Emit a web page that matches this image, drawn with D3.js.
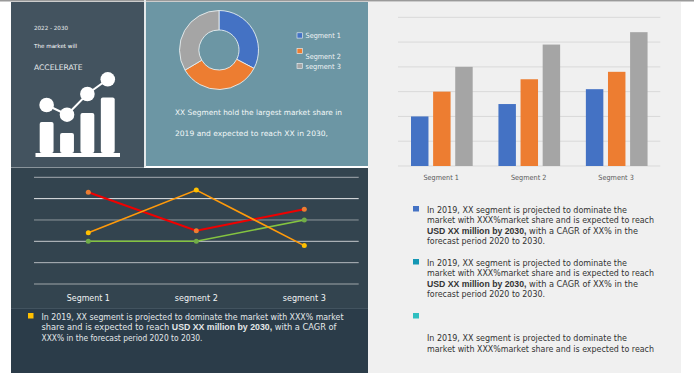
<!DOCTYPE html>
<html><head><meta charset="utf-8">
<script src="https://cdn.jsdelivr.net/npm/d3@7/dist/d3.min.js"></script>
<style>html,body{margin:0;padding:0;background:#fff}svg{display:block}text{font-family:"DejaVu Sans",sans-serif}</style>
</head><body><svg id="c" width="694" height="376"></svg>
<script>
const donutLabels=["Segment 1","Segment 2","segment 3"];
const donutValues=[32.7,33.8,33.5];
const palette=["#4472c4","#ed7d31","#a5a5a5"];
const barCategories=["Segment 1","Segment 2","Segment 3"];
const barSeriesA=[2,2.5,3.1];
const barSeriesB=[3,3.5,3.8];
const barSeriesC=[4,4.9,5.4];
const lineCategories=["Segment 1","segment 2","segment 3"];
const lineRed=[4.3,2.5,3.5];
const lineOrange=[2.4,4.4,1.8];
const lineGreen=[2,2,3];
const iconBars=[1,2,3,4];
const iconBarValues=[31,20,40,55.5];
const iconLine=[48,38.3,59,73.7];
const paraA=["In 2019, XX segment is projected to dominate the market with XXX% market",[["share and is expected to reach ",0],["USD XX million by 2030,",1],[" with a CAGR of",0]],"XXX% in the forecast period 2020 to 2030."];
const paraB=["In 2019, XX segment is projected to dominate the","market with XXX%market share and is expected to reach",[["USD XX million by 2030,",1],[" with a CAGR of XX% in the",0]],"forecast period 2020 to 2030."];
const paraC=["In 2019, XX segment is projected to dominate the","market with XXX%market share and is expected to reach"];

const svg=d3.select("#c");
const rect=(x,y,w,h,f)=>svg.append("rect").attr("x",x).attr("y",y).attr("width",w).attr("height",h).attr("fill",f);
function label(t,x,y,size,fill,anchor,len){
  const e=svg.append("text").attr("x",x).attr("y",y).attr("font-size",size).attr("fill",fill).attr("text-anchor",anchor||"start").text(t);
  if(len)e.attr("textLength",len).attr("lengthAdjust","spacingAndGlyphs");
  return e;
}
function para(lines,x,y,lh,size,fill,len){
  lines.forEach((l,i)=>{
    const t=svg.append("text").attr("x",x).attr("y",y+i*lh).attr("font-size",size).attr("fill",fill);
    if(len&&len[i])t.attr("textLength",len[i]).attr("lengthAdjust","spacingAndGlyphs");
    if(typeof l==="string")t.text(l);
    else l.forEach(s=>t.append("tspan").attr("font-weight",s[1]?"bold":"normal").style("font-family",s[1]?'"Liberation Sans",sans-serif':null).style("font-size",s[1]?(size+.5)+"px":null).style("white-space","pre").text(s[0]));
  });
}
// panels
rect(0,0,694,1.5,"#9a9a9a");
rect(368,2,313,371,"#f0f0f0");
rect(11,2,133,165,"#43535f");
rect(146,2,222,164,"#6c96a4");
rect(11,168,357,205,"#33444f");
rect(11,308,357,65,"#2b3c49");
rect(11,308,357,.6,"#53636e");
rect(11,167,133,1,"#8a949b");
rect(144,0,2,167,"#e4e8ea");

// left panel
label("2022 - 2030",34,30,5.6,"#e8ecee");
label("The market will",34,48,5.6,"#fff");
label("ACCELERATE",34,69.5,7.6,"#e8ecee");
const ix=d3.scaleBand().domain(iconBars).range([39.7,114.7]).paddingInner(.32);
const iy=d3.scaleLinear().domain([0,100]).range([153,53]);
svg.append("g").selectAll("rect").data(iconBars).join("rect")
 .attr("x",d=>ix(d)).attr("width",ix.bandwidth()).attr("y",(d,i)=>iy(iconBarValues[i])).attr("height",(d,i)=>iy(0)-iy(iconBarValues[i])).attr("rx",2).attr("fill","#fff");
rect(35.5,153,84.5,4,"#fff");
const ipts=iconBars.map((d,i)=>[ix(d)+ix.bandwidth()/2,iy(iconLine[i])]);
svg.append("path").attr("d",d3.line()(ipts)).attr("fill","none").attr("stroke","#fff").attr("stroke-width",2);
svg.append("g").selectAll("circle").data(ipts).join("circle").attr("cx",d=>d[0]).attr("cy",d=>d[1]).attr("r",7.3).attr("fill","#fff");

// donut
const arc=d3.arc().innerRadius(20).outerRadius(39.5);
svg.append("g").attr("transform","translate(219,50)").selectAll("path").data(d3.pie().sort(null)(donutValues)).join("path")
 .attr("d",arc).attr("fill",(d,i)=>palette[i]).attr("stroke","#e6eef0").attr("stroke-width",.9);
const lgX=[305.5,305.5,305.5], lgBoxY=[35.5,51,66], lgTextY=[38,58.5,69];
donutLabels.forEach((t,i)=>{
  svg.append("rect").attr("x",lgX[i]-8.5).attr("y",lgBoxY[i]-2.7).attr("width",5.3).attr("height",5.3).attr("fill",palette[i]).attr("stroke","#f2f6f7").attr("stroke-width",.6);
  label(t,lgX[i],lgTextY[i],7.2,"#f0f4f5",null,35.5);
});
label("XX Segment hold the largest market share in",175,115,7.4,"#f2f6f7",null,167);
label("2019 and expected to reach XX in 2030,",175,135.5,7.4,"#f2f6f7",null,153);

// bars
const bx=d3.scaleBand().domain(barCategories).range([398,660.3]);
const bs=d3.scaleBand().domain([0,1,2]).range([13,74.7]).paddingInner(.21);
const by=d3.scaleLinear().domain([0,6]).range([166,17.3]);
const grid=svg.append("g");
by.ticks(6).forEach(v=>grid.append("line").attr("x1",398).attr("x2",660.3).attr("y1",by(v)).attr("y2",by(v)).attr("stroke","#d9d9d9").attr("stroke-width",1));
[barSeriesA,barSeriesB,barSeriesC].forEach((s,k)=>{
  svg.append("g").selectAll("rect").data(s).join("rect")
   .attr("x",(d,i)=>bx(barCategories[i])+bs(k)).attr("width",bs.bandwidth())
   .attr("y",d=>by(d)).attr("height",d=>by(0)-by(d)).attr("fill",palette[k]);
});
barCategories.forEach(c=>label(c,bx(c)+bx.bandwidth()/2-.5,179.5,7.2,"#595959","middle",35.5));

// line chart
const lx=d3.scalePoint().domain(lineCategories).range([88.3,304.3]);
const ly=d3.scaleLinear().domain([0,5]).range([284,177.3]);
const gridCols=["#a4abb0","#e6e8ea","#8f979d","#c6cacd","#b4babe","#a0a6aa"];
ly.ticks(5).forEach((v,i)=>svg.append("line").attr("x1",34).attr("x2",358.7).attr("y1",ly(v)).attr("y2",ly(v)).attr("stroke",gridCols[5-i]).attr("stroke-width",1));
const lineGen=d3.line().x((d,i)=>lx(lineCategories[i])).y(d=>ly(d));
[[lineRed,"#f00000","#ed7d31",2],[lineGreen,"#84c440","#70ad47",1.6],[lineOrange,"#ff9a0a","#ffc000",1.6]].forEach(([s,c,m,w])=>{
  svg.append("path").datum(s).attr("d",lineGen).attr("fill","none").attr("stroke",c).attr("stroke-width",w);
  svg.append("g").selectAll("circle").data(s).join("circle").attr("cx",(d,i)=>lx(lineCategories[i])).attr("cy",d=>ly(d)).attr("r",2.5).attr("fill",m);
});
lineCategories.forEach(c=>label(c,lx(c),300.5,8.4,"#f2f4f5","middle",43));

// paragraphs
rect(28,313,5.5,5.5,"#ffc000");
para(paraA,41.5,319.5,10.6,8.2,"#e4e8ea",[302,295,161]);
rect(413,206,6,5.5,"#4472c4");
para(paraB,427,212.5,10.6,8.2,"#333",[200,227,211,118]);
rect(413,259,6,5.5,"#1497b4");
para(paraB,427,265.5,10.6,8.2,"#333",[200,227,211,118]);
rect(413,313,6,5.5,"#2fbfc0");
para(paraC,427,341,10.6,8.2,"#333",[200,227]);
</script></body></html>
